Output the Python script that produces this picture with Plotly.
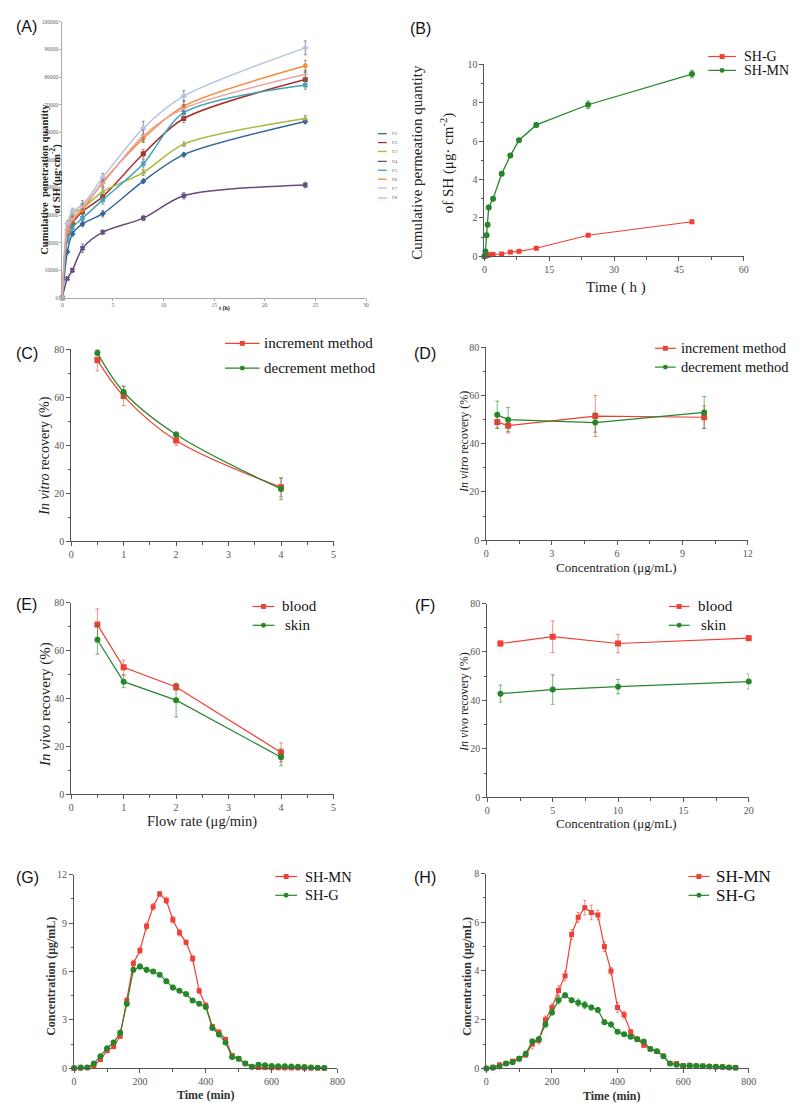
import plotly.graph_objects as go

W, H = 800, 1103

# ---------------- data ----------------
# (A) cumulative penetration, formulations F1-F8
a_t = [0, 0.5, 1, 2, 4, 8, 12, 24]
a_names = ["F1", "F2", "F3", "F4", "F5", "F6", "F7", "F8"]
a_F1 = [0, 16700, 23200, 26800, 30500, 42300, 51900, 63900]
a_F2 = [0, 23000, 27000, 31300, 36700, 52200, 65000, 79100]
a_F3 = [0, 25000, 30700, 32500, 38500, 45400, 55700, 65000]
a_F4 = [0, 7000, 10000, 18000, 23800, 28900, 37000, 40900]
a_F5 = [0, 21000, 25500, 28900, 35500, 48600, 67100, 77100]
a_F6 = [0, 24000, 28000, 31900, 42000, 57800, 69500, 84100]
a_F7 = [0, 27000, 31300, 33700, 43600, 61500, 73100, 90600]
a_F8 = [0, 25000, 28500, 33000, 41500, 58800, 68600, 81000]
a_E1 = [0, 800, 800, 1000, 1200, 800, 800, 800]
a_E2 = [0, 1000, 1000, 1200, 1500, 1500, 1500, 2500]
a_E3 = [0, 800, 800, 1000, 1000, 1000, 800, 1000]
a_E4 = [0, 500, 800, 1500, 800, 1000, 1200, 1000]
a_E5 = [0, 1000, 1000, 1200, 1500, 1500, 2000, 1500]
a_E6 = [0, 1000, 1200, 1500, 1500, 1500, 2000, 2000]
a_E7 = [0, 1000, 1200, 1500, 1500, 2500, 2000, 2500]
a_E8 = [0, 1000, 1000, 1200, 1500, 2000, 1500, 1500]

# (B) cumulative permeation
b_t = [0, 0.25, 0.5, 0.75, 1, 2, 4, 6, 8, 12, 24, 48]
b_G = [0, 0.02, 0.05, 0.06, 0.08, 0.1, 0.12, 0.22, 0.26, 0.42, 1.1, 1.8]
b_G_err = [0, 0.01, 0.02, 0.02, 0.02, 0.03, 0.03, 0.04, 0.04, 0.05, 0.06, 0.08]
b_MN = [0, 0.25, 1.1, 1.65, 2.55, 3.0, 4.3, 5.25, 6.05, 6.85, 7.9, 9.5]
b_MN_err = [0, 0.05, 0.1, 0.1, 0.1, 0.1, 0.1, 0.1, 0.1, 0.12, 0.2, 0.2]

# (C) in vitro recovery vs flow rate
c_x = [0.5, 1, 2, 4]
c_inc = [75.5, 60.5, 42, 22.5]
c_inc_err = [4.5, 4, 2, 4]
c_dec = [78.5, 62.2, 44.5, 21.8]
c_dec_err = [1, 2.5, 1, 4.5]

# (D) in vitro recovery vs concentration
d_x = [0.5, 1, 5, 10]
d_inc = [49, 47.5, 51.5, 51]
d_inc_err = [2.5, 3, 8.5, 4.7]
d_dec = [52, 50, 48.8, 53]
d_dec_err = [5.7, 5, 4, 6.6]

# (E) in vivo recovery vs flow rate
e_x = [0.5, 1, 2, 4]
e_blood = [70.8, 53, 44.8, 17.5]
e_blood_err = [6.5, 3, 1.5, 4]
e_skin = [64.5, 47, 39.3, 15.5]
e_skin_err = [6, 2.5, 7, 3.5]

# (F) in vivo recovery vs concentration
f_x = [1, 5, 10, 20]
f_blood = [63.5, 66.3, 63.5, 65.7]
f_blood_err = [1, 6.5, 3.8, 0.6]
f_skin = [42.8, 44.5, 45.7, 47.8]
f_skin_err = [3.5, 6.1, 3, 3.1]

# (G)/(H) concentration-time
gh_t = [0, 20, 40, 60, 80, 100, 120, 140, 160, 180, 200, 220, 240, 260, 280,
        300, 320, 340, 360, 380, 400, 420, 440, 460, 480, 500, 520, 540, 560,
        580, 600, 620, 640, 660, 680, 700, 720, 740, 760]
g_MN = [0, 0.02, 0.05, 0.15, 0.55, 1.1, 1.35, 2.0, 4.2, 6.5, 7.3, 8.8, 10.0,
        10.8, 10.4, 9.2, 8.4, 7.8, 6.8, 4.8, 3.9, 2.6, 2.25, 1.8, 0.8, 0.6,
        0.3, 0.1, 0.05, 0.05, 0.04, 0.04, 0.03, 0.03, 0.03, 0.02, 0.02, 0.02, 0.02]
g_MN_err = [0, 0.02, 0.02, 0.05, 0.1, 0.1, 0.1, 0.15, 0.2, 0.2, 0.2, 0.2, 0.2,
            0.15, 0.2, 0.2, 0.2, 0.15, 0.2, 0.15, 0.15, 0.1, 0.1, 0.1, 0.1, 0.05,
            0.05, 0.02, 0.02, 0.02, 0.02, 0.02, 0.02, 0.02, 0.02, 0.02, 0.02, 0.02, 0.02]
g_G = [0.02, 0.05, 0.05, 0.3, 0.75, 1.25, 1.6, 2.2, 4.0, 6.1, 6.3, 6.1, 6.0,
       5.8, 5.4, 5.0, 4.8, 4.6, 4.2, 4.0, 3.8, 2.5, 2.1, 1.6, 0.7, 0.6, 0.3,
       0.1, 0.22, 0.2, 0.15, 0.14, 0.13, 0.12, 0.1, 0.08, 0.06, 0.04, 0.02]
g_G_err = [0.01, 0.02, 0.02, 0.05, 0.1, 0.1, 0.1, 0.15, 0.15, 0.15, 0.15, 0.15, 0.1,
           0.1, 0.15, 0.15, 0.1, 0.1, 0.1, 0.1, 0.1, 0.1, 0.1, 0.1, 0.1, 0.05, 0.05,
           0.02, 0.03, 0.03, 0.02, 0.02, 0.02, 0.02, 0.02, 0.02, 0.02, 0.02, 0.02]
h_MN = [0, 0.05, 0.15, 0.2, 0.3, 0.4, 0.55, 1.0, 1.15, 2.0, 2.5, 3.2, 3.8, 5.5,
        6.2, 6.6, 6.4, 6.3, 5.0, 4.0, 2.5, 2.2, 1.5, 1.2, 0.95, 0.8, 0.7, 0.5,
        0.2, 0.2, 0.12, 0.12, 0.1, 0.1, 0.08, 0.07, 0.06, 0.04, 0.03]
h_MN_err = [0, 0.02, 0.03, 0.05, 0.05, 0.1, 0.1, 0.2, 0.15, 0.15, 0.15, 0.2, 0.2, 0.2,
            0.2, 0.3, 0.3, 0.2, 0.2, 0.15, 0.2, 0.15, 0.1, 0.1, 0.1, 0.05, 0.05, 0.05,
            0.05, 0.05, 0.02, 0.02, 0.02, 0.02, 0.02, 0.02, 0.02, 0.02, 0.02]
h_G = [0, 0.03, 0.08, 0.2, 0.25, 0.4, 0.6, 1.1, 1.2, 1.8, 2.3, 2.8, 3.0, 2.8,
       2.7, 2.6, 2.5, 2.4, 1.9, 1.8, 1.5, 1.4, 1.3, 1.2, 1.1, 0.8, 0.7, 0.5,
       0.2, 0.15, 0.1, 0.12, 0.1, 0.09, 0.08, 0.07, 0.06, 0.04, 0.03]
h_G_err = [0, 0.02, 0.02, 0.05, 0.05, 0.05, 0.1, 0.1, 0.1, 0.1, 0.1, 0.15, 0.1, 0.1,
           0.15, 0.15, 0.1, 0.1, 0.1, 0.1, 0.05, 0.05, 0.05, 0.05, 0.05, 0.05, 0.05, 0.05,
           0.03, 0.03, 0.02, 0.02, 0.02, 0.02, 0.02, 0.02, 0.02, 0.02, 0.02]

# ---------------- style ----------------
RED = "#ee4035"
RED_E = "rgba(238,64,53,0.6)"
GREEN = "#26872a"
GREEN_E = "rgba(38,135,42,0.6)"
A_COLORS = ["#34689c", "#a83230", "#a9b83e", "#664a7c", "#3fa2b8", "#f28c36", "#b6c3e0", "#e6a6a4"]
A_SYMBOLS = ["diamond", "square", "triangle-up", "x", "x", "circle", "cross", "line-ew"]
SERIF = "Liberation Serif"
SANS = "Liberation Sans"

# panel plot areas in pixels: x0, x1, ytop, ybottom
PANELS = {
    "A": (52, 360, 8, 287),
    "B": (480, 743, 51, 245),
    "C": (61, 327, 339, 533),
    "D": (482, 747, 337, 532),
    "E": (61, 327, 595, 789),
    "F": (483, 748, 596, 792),
    "G": (64, 331, 870, 1066),
    "H": (482, 748, 869, 1066),
}
AX = {"A": "", "B": "2", "C": "3", "D": "4", "E": "5", "F": "6", "G": "7", "H": "8"}


def px(x):
    return x / W


def py(y):
    return 1 - y / H


fig = go.Figure()
shapes = []
annotations = []


def add_series(panel, x, y, err, color, ecolor, symbol, msize=6, lw=1.2, shape="linear", ew=2):
    s = AX[panel]
    fig.add_trace(go.Scatter(
        x=x, y=y, mode="lines+markers",
        xaxis="x" + s, yaxis="y" + s,
        line=dict(color=color, width=lw, shape=shape),
        marker=dict(symbol=symbol, size=msize, color=color, line=dict(width=0, color=color)),
        error_y=dict(type="data", array=err, visible=True, color=ecolor, thickness=1, width=ew),
        showlegend=False, cliponaxis=False,
    ))


# (A)
a_vals = [a_F1, a_F2, a_F3, a_F4, a_F5, a_F6, a_F7, a_F8]
a_errs = [a_E1, a_E2, a_E3, a_E4, a_E5, a_E6, a_E7, a_E8]
for i in range(8):
    sym = A_SYMBOLS[i]
    s = AX["A"]
    fig.add_trace(go.Scatter(
        x=a_t, y=a_vals[i], mode="lines+markers", xaxis="x" + s, yaxis="y" + s,
        line=dict(color=A_COLORS[i], width=1.5, shape="spline", smoothing=0.8),
        marker=dict(symbol=sym, size=4, color=A_COLORS[i],
                    line=dict(width=1, color=A_COLORS[i])),
        error_y=dict(type="data", array=a_errs[i], color="#777", thickness=0.8, width=1.5),
        showlegend=False, cliponaxis=False, name=a_names[i],
    ))

# (B)
add_series("B", b_t, b_G, b_G_err, RED, RED_E, "square", msize=5, lw=1.1)
add_series("B", b_t, b_MN, b_MN_err, GREEN, GREEN_E, "circle", msize=6, lw=1.3)
# (C)
add_series("C", c_x, c_inc, c_inc_err, RED, RED_E, "square", msize=6, shape="spline")
add_series("C", c_x, c_dec, c_dec_err, GREEN, GREEN_E, "circle", msize=6, shape="spline")
# (D)
add_series("D", d_x, d_inc, d_inc_err, RED, RED_E, "square", msize=6)
add_series("D", d_x, d_dec, d_dec_err, GREEN, GREEN_E, "circle", msize=6)
# (E)
add_series("E", e_x, e_blood, e_blood_err, RED, RED_E, "square", msize=6)
add_series("E", e_x, e_skin, e_skin_err, GREEN, GREEN_E, "circle", msize=6)
# (F)
add_series("F", f_x, f_blood, f_blood_err, RED, RED_E, "square", msize=6)
add_series("F", f_x, f_skin, f_skin_err, GREEN, GREEN_E, "circle", msize=6)
# (G)
add_series("G", gh_t, g_MN, g_MN_err, RED, RED_E, "square", msize=5, ew=1.5)
add_series("G", gh_t, g_G, g_G_err, GREEN, GREEN_E, "circle", msize=6, ew=1.5)
# (H)
add_series("H", gh_t, h_MN, h_MN_err, RED, RED_E, "square", msize=5, ew=1.5)
add_series("H", gh_t, h_G, h_G_err, GREEN, GREEN_E, "circle", msize=6, ew=1.5)


# ---------------- axes ----------------
def origin_axis(rng, dtick, mdtick, domain, anchor):
    return dict(
        range=rng, domain=domain, anchor=anchor, tickmode="linear", tick0=0, dtick=dtick,
        showline=True, linecolor="#555", linewidth=1, mirror=False,
        ticks="outside", ticklen=4, tickwidth=1, tickcolor="#555",
        showgrid=False, zeroline=False,
        tickfont=dict(family=SERIF, size=10, color="#555"),
        minor=dict(dtick=mdtick, ticks="outside", ticklen=2.5, tickcolor="#555", tickwidth=1, showgrid=False),
    )


AXCFG = {
    "B": ([0, 60], 15, 7.5, [0, 10], 2, 1),
    "C": ([0, 5], 1, 0.5, [0, 80], 20, 10),
    "D": ([0, 12], 3, 1.5, [0, 80], 20, 10),
    "E": ([0, 5], 1, 0.5, [0, 80], 20, 10),
    "F": ([0, 20], 5, 2.5, [0, 80], 20, 10),
    "G": ([0, 800], 200, 100, [0, 12], 3, 1.5),
    "H": ([0, 800], 200, 100, [0, 8], 2, 1),
}

layout_axes = {}
for p, (xr, xd, xm, yr, yd, ym) in AXCFG.items():
    x0, x1, yt, yb = PANELS[p]
    s = AX[p]
    layout_axes["xaxis" + s] = origin_axis(xr, xd, xm, [px(x0), px(x1)], "y" + s)
    layout_axes["yaxis" + s] = origin_axis(yr, yd, ym, [py(yb), py(yt)], "x" + s)

x0, x1, yt, yb = PANELS["A"]
a_axis = dict(showline=True, linecolor="#aaa", linewidth=1, ticks="outside", ticklen=2,
              tickcolor="#aaa", showgrid=False, zeroline=False,
              tickfont=dict(family=SERIF, size=5.5, color="#666"), tickmode="linear", tick0=0)
layout_axes["xaxis"] = dict(a_axis, range=[0, 30], dtick=5, domain=[px(x0), px(x1)], anchor="y")
layout_axes["yaxis"] = dict(a_axis, range=[0, 100000], dtick=10000, tickformat="d",
                            domain=[py(yb), py(yt)], anchor="x")


# ---------------- text ----------------
def text(t, x, y, size, family=SERIF, angle=0, xanchor="center", color="#222", yanchor="middle"):
    annotations.append(dict(text=t, x=px(x), y=py(y), xref="paper", yref="paper",
                            xanchor=xanchor, yanchor=yanchor, showarrow=False, textangle=angle,
                            font=dict(family=family, size=size, color=color)))


# panel letters
for lab, (lx, ly) in {"(A)": (3, 13), "(B)": (403, 15), "(C)": (3, 343), "(D)": (407, 343),
                      "(E)": (3, 597), "(F)": (408, 598), "(G)": (3, 873), "(H)": (407, 873)}.items():
    text(lab, lx, ly, 16, family=SANS, xanchor="left", color="#111")

# axis titles
text("<b>Cumulative  penetration quantity</b>", 34, 167, 10.5, angle=-90, color="#222")
text("<b>of SH (μg·cm<sup>-2</sup>)</b>", 45, 166, 10.5, angle=-90, color="#222")
text("<b>t (h)</b>", 216, 298, 6)

text("Cumulative permeation quantity", 412, 150, 15, angle=-90)
text("of SH (μg· cm<sup>-2</sup>)", 442, 150, 15, angle=-90)
text("Time ( h )", 613, 277, 15)

text("<i>In vitro</i> recovery (%)", 35, 447, 14, angle=-90)
text("<i>In vitro</i> recovery (%)", 460, 433, 12, angle=-90)
text("Concentration (μg/mL)", 614, 560, 13)

text("<i>In vivo</i> recovery (%)", 35, 698, 15, angle=-90)
text("Flow rate (μg/min)", 194, 816, 14.5)
text("<i>In vivo</i> recovery (%)", 460, 696, 12, angle=-90)
text("Concentration (μg/mL)", 614, 818, 13)

text("<b>Concentration (μg/mL)</b>", 41, 973, 12, angle=-90, color="#333")
text("<b>Time (min)</b>", 197, 1093, 12, color="#333")
text("<b>Concentration (μg/mL)</b>", 463, 973, 12, angle=-90, color="#333")
text("<b>Time (min)</b>", 609, 1094, 12, color="#333")


# ---------------- legends ----------------
def legend_entry(lx0, lx1, ly, color, symbol, label, size, tx, ms=5):
    shapes.append(dict(type="line", xref="paper", yref="paper", x0=px(lx0), x1=px(lx1),
                       y0=py(ly), y1=py(ly), line=dict(color=color, width=1.2)))
    cx = (lx0 + lx1) / 2
    r = ms / 2
    shapes.append(dict(type="rect" if symbol == "square" else "circle", xref="paper", yref="paper",
                       x0=px(cx - r), x1=px(cx + r), y0=py(ly + r), y1=py(ly - r),
                       fillcolor=color, line=dict(width=0)))
    text(label, tx, ly, size, xanchor="left", color="#111")


legend_entry(707, 735, 43, RED, "square", "SH-G", 14, 741)
legend_entry(707, 735, 57, GREEN, "circle", "SH-MN", 14, 741)
legend_entry(217, 252, 333, RED, "square", "increment method", 15, 254)
legend_entry(217, 252, 358, GREEN, "circle", "decrement method", 15, 254)
legend_entry(653, 674, 338, RED, "square", "increment method", 14.5, 677)
legend_entry(653, 674, 357, GREEN, "circle", "decrement method", 14.5, 677)
legend_entry(245, 267, 599, RED, "square", "blood", 15, 273)
legend_entry(245, 267, 618, GREEN, "circle", "skin", 15, 276)
legend_entry(667, 688, 599, RED, "square", "blood", 15, 695)
legend_entry(667, 688, 618, GREEN, "circle", "skin", 15, 698)
legend_entry(268, 290, 872, RED, "square", "SH-MN", 14.5, 296)
legend_entry(268, 290, 891, GREEN, "circle", "SH-G", 14.5, 296)
legend_entry(687, 708, 872, RED, "square", "SH-MN", 17, 713)
legend_entry(687, 708, 891, GREEN, "circle", "SH-G", 17, 713)

# (A) legend
a_leg_y = [121, 130, 139, 149, 158, 167, 176, 186]
for i in range(8):
    shapes.append(dict(type="line", xref="paper", yref="paper", x0=px(372), x1=px(381),
                       y0=py(a_leg_y[i]), y1=py(a_leg_y[i]), line=dict(color=A_COLORS[i], width=1.3)))
    text(a_names[i], 384, a_leg_y[i], 5, xanchor="left", color="#666")

fig.update_layout(
    width=W, height=H, margin=dict(l=0, r=0, t=0, b=0),
    paper_bgcolor="white", plot_bgcolor="white", showlegend=False,
    shapes=shapes, annotations=annotations, **layout_axes,
)

fig.write_html("out.html")
